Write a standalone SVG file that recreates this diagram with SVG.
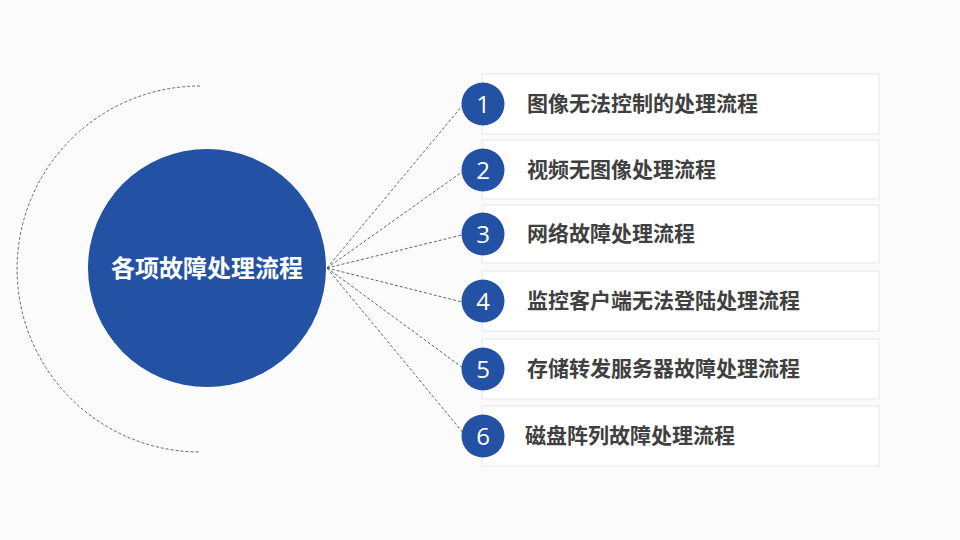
<svg xmlns="http://www.w3.org/2000/svg" width="960" height="540" viewBox="0 0 960 540">
<style>
.card{fill:#ffffff;stroke:#e6e6e6;stroke-width:1}
.num{fill:#2352a5}
.numt{fill:#ffffff;font-family:"Open Sans","Liberation Sans",sans-serif;font-size:24px;text-anchor:middle}
.lab{fill:#404040;font-family:"Noto Sans CJK SC","Noto Sans",sans-serif;font-size:21px;font-weight:bold}
.dash{fill:none;stroke:#555555;stroke-width:0.9;stroke-dasharray:3 2}
</style>
<rect width="960" height="540" fill="#fbfbfb"/>
<path class="dash" d="M200 86 A183 183 0 0 0 200 452"/>
<g id="connectors">
<line class="dash" x1="327" y1="268" x2="462" y2="106"/>
<line class="dash" x1="327" y1="268" x2="462" y2="172"/>
<line class="dash" x1="327" y1="268" x2="462" y2="235"/>
<line class="dash" x1="327" y1="268" x2="462" y2="302"/>
<line class="dash" x1="327" y1="268" x2="463" y2="368"/>
<line class="dash" x1="327" y1="268" x2="464" y2="434"/>
</g>
<g id="center">
<circle cx="207" cy="268" r="119" fill="#2352a5"/>
<text x="207" y="277" fill="#ffffff" font-family="'Noto Sans CJK SC',sans-serif" font-size="24" font-weight="bold" text-anchor="middle">各项故障处理流程</text>
</g>
<g id="item1">
<rect class="card" x="482" y="74" width="397" height="60"/>
<circle class="num" cx="483" cy="104" r="21.5"/>
<text class="numt" x="483" y="113">1</text>
<text class="lab" x="527" y="111">图像无法控制的处理流程</text>
</g>
<g id="item2">
<rect class="card" x="482" y="140" width="397" height="59"/>
<circle class="num" cx="483" cy="170" r="21.5"/>
<text class="numt" x="483" y="179">2</text>
<text class="lab" x="527" y="177">视频无图像处理流程</text>
</g>
<g id="item3">
<rect class="card" x="482" y="205" width="397" height="58"/>
<circle class="num" cx="483" cy="234" r="21.5"/>
<text class="numt" x="483" y="243">3</text>
<text class="lab" x="527" y="241">网络故障处理流程</text>
</g>
<g id="item4">
<rect class="card" x="482" y="271" width="397" height="60"/>
<circle class="num" cx="483" cy="301" r="21.5"/>
<text class="numt" x="483" y="310">4</text>
<text class="lab" x="527" y="308">监控客户端无法登陆处理流程</text>
</g>
<g id="item5">
<rect class="card" x="482" y="339" width="397" height="60"/>
<circle class="num" cx="483" cy="369" r="21.5"/>
<text class="numt" x="483" y="378">5</text>
<text class="lab" x="527" y="376">存储转发服务器故障处理流程</text>
</g>
<g id="item6">
<rect class="card" x="482" y="406" width="397" height="60"/>
<circle class="num" cx="483" cy="436" r="21.5"/>
<text class="numt" x="483" y="445">6</text>
<text class="lab" x="525" y="443">磁盘阵列故障处理流程</text>
</g>
</svg>
